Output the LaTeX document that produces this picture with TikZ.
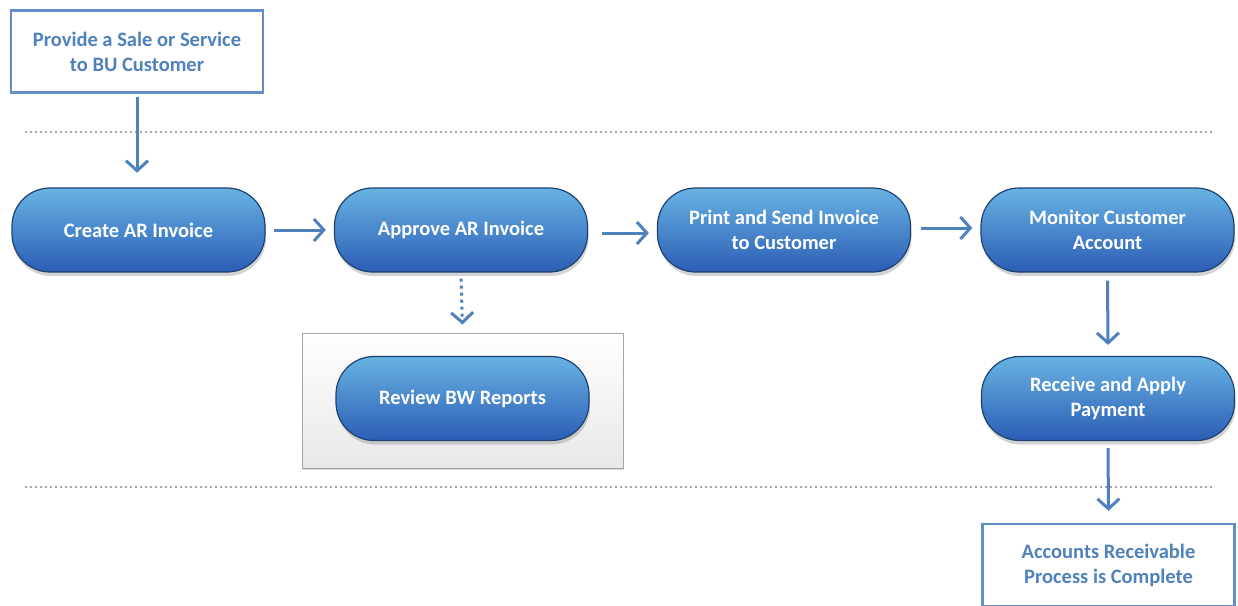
\documentclass[tikz,border=0pt]{standalone}
\usepackage{fontspec}
\setmainfont{Carlito}
\usetikzlibrary{arrows.meta,shadows}
\definecolor{FlowBlue}{HTML}{4F81BD}
\definecolor{PillTop}{HTML}{68B3E3}
\definecolor{PillBottom}{HTML}{2B5DB5}
\definecolor{PillEdge}{HTML}{1D4270}
\definecolor{RuleGray}{HTML}{A6A6A6}

\tikzset{
  pill/.style={draw=PillEdge, line width=1.2pt, rounded corners=38pt,
    top color=PillTop, bottom color=PillBottom,
    minimum width=253pt, minimum height=84pt, align=center,
    text=white, font=\fontsize{20.5}{25}\selectfont\bfseries,
    drop shadow={shadow xshift=1pt, shadow yshift=-4pt, opacity=0.35}},
  endbox/.style={draw=FlowBlue!90, line width=2.4pt, fill=white,
    minimum width=252pt, minimum height=82pt, align=center,
    text=FlowBlue, font=\fontsize{20.5}{25}\selectfont\bfseries},
  flow/.style={draw=FlowBlue, line width=3pt,
    -{Straight Barb[length=10pt,width=22pt,line width=3pt]}},
  rule/.style={draw=RuleGray, line width=2pt, dash pattern=on 2pt off 3pt}
}

\begin{document}
\begin{tikzpicture}[x=1pt,y=-1pt]
    \useasboundingbox (0,0) rectangle (1238,605);
    % separators
    \draw[rule] (25,132) -- (1215,132);
    \draw[rule] (25,487) -- (1215,487);
    % report frame
    \node[draw=gray!70, line width=1pt, top color=white, bottom color=gray!18,
      minimum width=321pt, minimum height=135pt,
      drop shadow={shadow xshift=1pt, shadow yshift=-2pt, opacity=0.3}]
      (frame) at (462.5,400.5) {};
    % steps
    \node[endbox] (start) at (137,51.5) {Provide a Sale or Service\\to BU Customer};
    \node[pill] (create) at (138.5,230) {Create AR Invoice};
    \node[pill] (approve) at (461,230) {Approve AR Invoice};
    \node[pill] (print) at (784,230) {Print and Send Invoice\\to Customer};
    \node[pill] (monitor) at (1107.5,230) {Monitor Customer\\Account};
    \node[pill] (review) at (462.5,398.5) {Review BW Reports};
    \node[pill] (receive) at (1108,398.5) {Receive and Apply\\Payment};
    \node[endbox] (finish) at (1108.5,565) {Accounts Receivable\\Process is Complete};
    % connectors
    \draw[flow] ([yshift=-3pt]start.south) -- ++(0,76);
    \draw[flow] ([xshift=8pt]create.east) -- ([xshift=-8pt]approve.west);
    \draw[flow] ([xshift=14pt,yshift=-3pt]approve.east) -- ([xshift=-8pt,yshift=-3pt]print.west);
    \draw[flow] ([xshift=10pt,yshift=2pt]print.east) -- ([xshift=-8pt,yshift=2pt]monitor.west);
    \draw[flow, dash pattern=on 3pt off 4pt] ([yshift=-6pt]approve.south) -- ([yshift=8pt]frame.north);
    \draw[flow] ([yshift=-8pt]monitor.south) -- ([yshift=11pt]receive.north);
    \draw[flow] ([yshift=-7pt]receive.south) -- ([yshift=12pt]finish.north);
\end{tikzpicture}
\end{document}
